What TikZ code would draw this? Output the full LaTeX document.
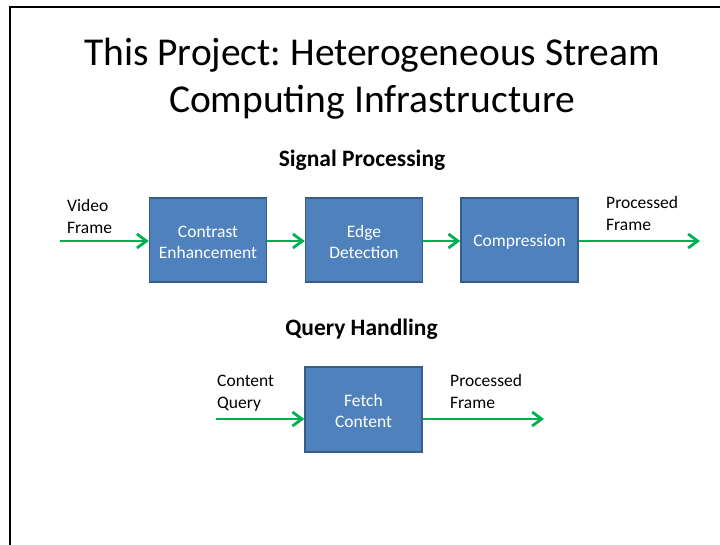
\documentclass[tikz,border=0pt]{standalone}
\usepackage{fontspec}
\setmainfont{Carlito}
\usetikzlibrary{arrows.meta,calc}
\frenchspacing

\definecolor{boxfill}{HTML}{4F81BD}
\definecolor{boxline}{HTML}{385D8A}
\definecolor{flow}{HTML}{00B050}

\tikzset{
  stage/.style={draw=boxline, line width=1.4pt, fill=boxfill, text=white,
    minimum width=117pt, minimum height=84pt, inner sep=0pt, align=center,
    font=\fontsize{17.5}{21}\selectfont},
  lbl/.style={inner sep=0pt, align=left, font=\fontsize{17.5}{22}\selectfont},
  head/.style={inner sep=0pt, font=\fontsize{23.5}{28}\selectfont\bfseries},
  flowarrow/.style={draw=flow, line width=2.6pt,
    -{Straight Barb[length=9.5pt,width=14pt,line width=2.8pt]}},
}

\begin{document}
\begin{tikzpicture}[x=1pt,y=-1pt]
  \useasboundingbox (0,0) rectangle (720,545);

  % slide frame
  \draw[line width=2pt] (720,7.5) -- (10,7.5) -- (10,545);

  % title (base anchor sits on the last line)
  \node[inner sep=0pt, align=center, font=\fontsize{39.5}{47}\selectfont, anchor=base]
    (title) at (372,113) {This Project: Heterogeneous Stream\\Computing Infrastructure};

  % signal processing pipeline
  \node[head, anchor=base] (sphead) at (362,167) {Signal Processing};
  \node[stage] (ce) at (208,240) {\rule{0pt}{16pt}Contrast\\Enhancement};
  \node[stage] (ed) at (364,240) {\rule{0pt}{16pt}Edge\\Detection};
  \node[stage] (cp) at (519.5,240) {\rule{0pt}{16pt}Compression};

  \coordinate (vin) at (60,241);
  \coordinate (vout) at (700,241);
  \draw[flowarrow] (vin) -- (vin -| ce.west);
  \draw[flowarrow] (ce.east |- vin) -- (vin -| ed.west);
  \draw[flowarrow] (ed.east |- vin) -- (vin -| cp.west);
  \draw[flowarrow] (cp.east |- vin) -- (vout);

  \node[lbl, anchor=base west] (vlbl) at (67,234) {Video\\Frame};
  \node[lbl, anchor=base west] (plbl) at (606,231) {Processed\\Frame};

  % query handling pipeline
  \node[head, anchor=base] (qhhead) at (361.5,335) {Query Handling};
  \node[stage, minimum height=85pt] (fc) at (363.5,409.5) {\rule{0pt}{16pt}Fetch\\Content};

  \coordinate (qin) at (216,419);
  \coordinate (qout) at (544,419);
  \draw[flowarrow] (qin) -- (qin -| fc.west);
  \draw[flowarrow] (fc.east |- qin) -- (qout);

  \node[lbl, anchor=base west] (clbl) at (217,408) {Content\\Query};
  \node[lbl, anchor=base west] (qlbl) at (450,408) {Processed\\Frame};
\end{tikzpicture}
\end{document}
